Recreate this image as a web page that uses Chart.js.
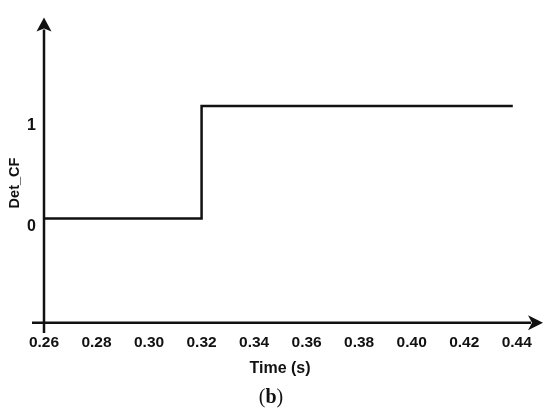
<!DOCTYPE html>
<html>
<head>
<meta charset="utf-8">
<script src="https://cdn.jsdelivr.net/npm/chart.js@4/dist/chart.umd.min.js"></script>
<style>
  body { margin: 0; background: #fff; }
  canvas { display: block; }
</style>
</head>
<body>
<canvas id="chart" width="550" height="414"></canvas>
<script>
// step signal
const timeS = [0.26, 0.32, 0.4385];
const detCF = [0.08, 1.2, 1.2];

// tick labels
const xTicks = [0.26, 0.28, 0.30, 0.32, 0.34, 0.36, 0.38, 0.40, 0.42, 0.44];
const yTicks = [0, 1];

const xTitle = 'Time (s)';
const yTitle = 'Det_CF';
const caption = 'b';

const ink = '#111';

// axes with arrowheads and the free text around them
const axesPlugin = {
    id: 'axes',
    afterDraw(chart) {
        const ctx = chart.ctx;
        const xs = chart.scales.x;
        const ys = chart.scales.y;
        const area = chart.chartArea;
        const ax = xs.getPixelForValue(0.26);
        const ay = ys.getPixelForValue(-0.958);

        ctx.save();
        ctx.strokeStyle = ink;
        ctx.fillStyle = ink;
        ctx.lineWidth = 2.5;

        // y axis
        ctx.beginPath();
        ctx.moveTo(ax, area.bottom);
        ctx.lineTo(ax, area.top + 12);
        ctx.stroke();
        ctx.beginPath();
        ctx.moveTo(ax, area.top);
        ctx.lineTo(ax - 7.5, area.top + 14);
        ctx.lineTo(ax, area.top + 11);
        ctx.lineTo(ax + 7.5, area.top + 14);
        ctx.closePath();
        ctx.fill();

        // x axis
        ctx.beginPath();
        ctx.moveTo(ax - 12, ay);
        ctx.lineTo(area.right - 12, ay);
        ctx.stroke();
        ctx.beginPath();
        ctx.moveTo(area.right, ay);
        ctx.lineTo(area.right - 15, ay - 7.5);
        ctx.lineTo(area.right - 11, ay);
        ctx.lineTo(area.right - 15, ay + 7.5);
        ctx.closePath();
        ctx.fill();

        // axis titles
        ctx.font = 'bold 16px "Liberation Sans", Arial, sans-serif';
        ctx.textAlign = 'center';
        ctx.textBaseline = 'middle';
        ctx.fillText(xTitle, 280, 369);

        ctx.save();
        ctx.translate(15, 183);
        ctx.rotate(-Math.PI / 2);
        ctx.font = 'bold 14.5px "Liberation Sans", Arial, sans-serif';
        ctx.fillText(yTitle, 0, 0);
        ctx.restore();

        // caption "(b)"
        ctx.textBaseline = 'alphabetic';
        ctx.textAlign = 'left';
        const reg = '20px "Liberation Serif", "Times New Roman", serif';
        const bold = 'bold 20px "Liberation Serif", "Times New Roman", serif';
        ctx.font = reg;
        const wp = ctx.measureText('(').width;
        const wq = ctx.measureText(')').width;
        ctx.font = bold;
        const wb = ctx.measureText(caption).width;
        let cx = 271 - (wp + wb + wq) / 2;
        ctx.font = reg;
        ctx.fillText('(', cx, 403);
        cx += wp;
        ctx.font = bold;
        ctx.fillText(caption, cx, 403);
        cx += wb;
        ctx.font = reg;
        ctx.fillText(')', cx, 403);

        ctx.restore();
    }
};

new Chart(document.getElementById('chart'), {
    type: 'line',
    data: {
        datasets: [{
            label: yTitle,
            data: timeS.map((t, i) => ({ x: t, y: detCF[i] })),
            stepped: 'before',
            borderColor: ink,
            borderWidth: 2.5,
            pointRadius: 0,
            fill: false
        }]
    },
    options: {
        responsive: false,
        animation: false,
        layout: { padding: { top: 10, right: 7, left: 0, bottom: 0 } },
        plugins: {
            legend: { display: false },
            tooltip: { enabled: false }
        },
        scales: {
            x: {
                type: 'linear',
                min: 0.26,
                max: 0.45,
                grid: { display: false, drawTicks: false },
                border: { display: false },
                afterBuildTicks: s => { s.ticks = xTicks.map(v => ({ value: v })); },
                afterFit: s => { s.height = 81; },
                ticks: {
                    padding: 0,
                    color: ink,
                    maxRotation: 0,
                    autoSkip: false,
                    font: { family: '"Liberation Sans", Arial, sans-serif', size: 15.5, weight: 'bold' },
                    callback: v => v.toFixed(2)
                }
            },
            y: {
                min: -1.06,
                max: 2.08,
                grid: { display: false, drawTicks: false },
                border: { display: false },
                afterBuildTicks: s => { s.ticks = yTicks.map(v => ({ value: v })); },
                afterFit: s => { s.width = 44; },
                ticks: {
                    padding: 8,
                    color: ink,
                    font: { family: '"Liberation Sans", Arial, sans-serif', size: 16, weight: 'bold' },
                    callback: v => String(v)
                }
            }
        }
    },
    plugins: [axesPlugin]
});
</script>
</body>
</html>
